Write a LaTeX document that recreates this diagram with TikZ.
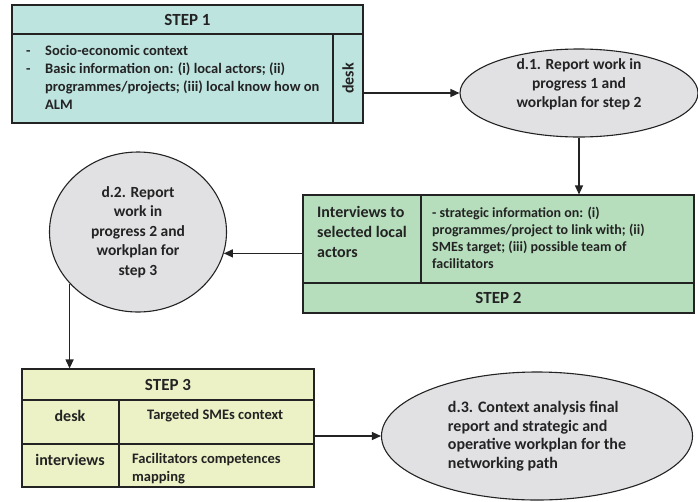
\documentclass[tikz,border=0pt]{standalone}
\usepackage{fontspec}
\setmainfont{Carlito}
\usetikzlibrary{arrows.meta,shapes.geometric}

\definecolor{stepone}{RGB}{190,228,224}
\definecolor{steptwo}{RGB}{182,222,188}
\definecolor{stepthree}{RGB}{236,242,198}
\definecolor{ovalgray}{RGB}{225,225,228}
\definecolor{inkc}{RGB}{35,35,35}

\begin{document}
\begin{tikzpicture}[x=1pt,y=-1pt]
\tikzset{
  cell/.style={draw=inkc,line width=1.1pt,rectangle,inner sep=0pt,text=inkc},
  oval/.style={draw=inkc,line width=1.1pt,ellipse,fill=ovalgray,inner sep=0pt,text=inkc},
  txt/.style={inner sep=0pt,text=inkc},
  flow/.style={-{Triangle[length=9pt,width=8pt]},line width=1.3pt,draw=inkc},
  titlefont/.style={font=\fontsize{17}{20}\selectfont\bfseries},
  bigfont/.style={font=\fontsize{16}{20}\selectfont\bfseries},
  smallfont/.style={font=\fontsize{14.5}{18}\selectfont\bfseries}
}
\useasboundingbox (0,0) rectangle (698,501);

% step 1
\node[cell,fill=stepone,titlefont,minimum width=351pt,minimum height=29pt] (s1title) at (187.5,19.5) {STEP 1};
\node[cell,fill=stepone,minimum width=321pt,minimum height=89pt] (s1body) at (172.5,78.5) {};
\node[cell,fill=stepone,minimum width=30pt,minimum height=89pt] (s1desk) at (348,78.5) {};
\node[txt,smallfont,anchor=west,align=left] (s1list) at (26,77)
  {\makebox[19pt][l]{-}Socio-economic context\\
   \makebox[19pt][l]{-}Basic information on: (i) local actors; (ii)\\
   \hspace*{19pt}programmes/projects; (iii) local know how on\\
   \hspace*{19pt}ALM};
\node[txt,bigfont,rotate=90] (s1desklbl) at (s1desk.center) {desk};

% report 1
\node[oval,minimum width=238pt,minimum height=88pt] (d1) at (579,93) {};
\node[txt,font=\fontsize{15.5}{19}\selectfont\bfseries,align=center] (d1lbl) at (579,84)
  {d.1. Report work in\\ progress 1 and\\ workplan for step 2};

% step 2
\node[cell,fill=steptwo,minimum width=118pt,minimum height=88pt] (s2act) at (362,239) {};
\node[cell,fill=steptwo,minimum width=273pt,minimum height=88pt] (s2info) at (557.5,239) {};
\node[cell,fill=steptwo,titlefont,minimum width=391pt,minimum height=30pt] (s2title) at (498.5,298) {STEP 2};
\node[txt,bigfont,anchor=west,align=left] (s2actlbl) at (317,232)
  {Interviews to\\ selected local\\ actors};
\node[txt,font=\fontsize{14}{16.8}\selectfont\bfseries,anchor=west,align=left] (s2infolbl) at (432,238)
  {- strategic information on: (i)\\ programmes/project to link with; (ii)\\ SMEs target; (iii) possible team of\\ facilitators};

% report 2
\node[oval,font=\fontsize{15.5}{19.5}\selectfont\bfseries,align=center,minimum width=177pt,minimum height=160pt] (d2) at (138,232)
  {d.2. Report\\ work in\\ progress 2 and\\ workplan for\\ step 3};

% step 3
\node[cell,fill=stepthree,titlefont,minimum width=292pt,minimum height=31pt] (s3title) at (168,384.5) {STEP 3};
\node[cell,fill=stepthree,minimum width=97pt,minimum height=44pt] (s3desk) at (70.5,422) {};
\node[cell,fill=stepthree,minimum width=195pt,minimum height=44pt] (s3smes) at (216.5,422) {};
\node[cell,fill=stepthree,minimum width=97pt,minimum height=43pt] (s3int) at (70.5,465.5) {};
\node[cell,fill=stepthree,minimum width=195pt,minimum height=43pt] (s3map) at (216.5,465.5) {};
\node[txt,bigfont] (s3desklbl) at (70,416) {desk};
\node[txt,smallfont,anchor=west] (s3smeslbl) at (147,416) {Targeted SMEs context};
\node[txt,bigfont] (s3intlbl) at (70,460) {interviews};
\node[txt,smallfont,anchor=west,align=left] (s3maplbl) at (132,469)
  {Facilitators competences\\ mapping};

% report 3
\node[oval,font=\fontsize{16}{18.5}\selectfont\bfseries,align=left,minimum width=311pt,minimum height=128pt] (d3) at (537,436)
  {d.3. Context analysis final\\ report and strategic and\\ operative workplan for the\\ networking path};

% flow
\draw[flow] (s1desk.east |- d1.west) -- (d1.west);
\draw[flow] (d1.south) -- (d1.south |- s2info.north);
\draw[flow] (d2.-14 -| s2act.west) -- (d2.-14);
\draw[flow] (d2.217) -- (d2.217 |- s3title.north);
\draw[flow] (s3smes.east |- d3.west) -- (d3.west);
\end{tikzpicture}
\end{document}
